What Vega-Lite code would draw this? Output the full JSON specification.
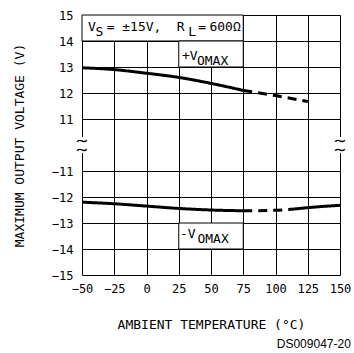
{
  "$schema": "https://vega.github.io/schema/vega-lite/v6.json",
  "width": 258,
  "height": 260,
  "autosize": "none",
  "padding": {"left": 82, "top": 15, "right": 14, "bottom": 78},
  "background": "white",
  "config": {
    "view": {"stroke": null},
    "font": "DejaVu Sans Mono",
    "axis": {
      "domain": false,
      "ticks": false,
      "grid": true,
      "gridColor": "#000000",
      "gridOpacity": 1,
      "gridWidth": 1,
      "labelOverlap": false,
      "labelFlush": false,
      "labelFont": "DejaVu Sans Mono",
      "labelFontSize": 12,
      "labelColor": "#000000",
      "titleFont": "DejaVu Sans Mono",
      "titleFontSize": 13,
      "titleFontWeight": "normal",
      "titleColor": "#000000"
    }
  },
  "title": {
    "text": "DS009047-20",
    "orient": "bottom",
    "anchor": "end",
    "font": "Liberation Sans",
    "fontSize": 12,
    "fontWeight": "normal",
    "color": "#000000",
    "offset": 8
  },
  "datasets": {
    "curves": [
      {"temp": -50, "volt": 12.97, "seg": "pos_a", "style": "solid"},
      {"temp": -25, "volt": 12.9, "seg": "pos_a", "style": "solid"},
      {"temp": 0, "volt": 12.76, "seg": "pos_a", "style": "solid"},
      {"temp": 25, "volt": 12.6, "seg": "pos_a", "style": "solid"},
      {"temp": 50, "volt": 12.37, "seg": "pos_a", "style": "solid"},
      {"temp": 75, "volt": 12.1, "seg": "pos_a", "style": "solid"},
      {"temp": 75, "volt": 12.1, "seg": "pos_b", "style": "dashed"},
      {"temp": 100, "volt": 11.9, "seg": "pos_b", "style": "dashed"},
      {"temp": 125, "volt": 11.67, "seg": "pos_b", "style": "dashed"},
      {"temp": -50, "volt": -12.2, "seg": "neg_a", "style": "solid"},
      {"temp": -25, "volt": -12.26, "seg": "neg_a", "style": "solid"},
      {"temp": 0, "volt": -12.35, "seg": "neg_a", "style": "solid"},
      {"temp": 25, "volt": -12.44, "seg": "neg_a", "style": "solid"},
      {"temp": 50, "volt": -12.5, "seg": "neg_a", "style": "solid"},
      {"temp": 75, "volt": -12.53, "seg": "neg_a", "style": "solid"},
      {"temp": 75, "volt": -12.53, "seg": "neg_b", "style": "dashed"},
      {"temp": 100, "volt": -12.51, "seg": "neg_b", "style": "dashed"},
      {"temp": 115, "volt": -12.46, "seg": "neg_b", "style": "dashed"},
      {"temp": 115, "volt": -12.46, "seg": "neg_c", "style": "solid"},
      {"temp": 125, "volt": -12.41, "seg": "neg_c", "style": "solid"},
      {"temp": 150, "volt": -12.32, "seg": "neg_c", "style": "solid"}
    ],
    "boxes": [
      {"temp": -50, "temp2": 75, "volt": 14, "volt2": 15},
      {"temp": 25, "temp2": 75, "volt": 13, "volt2": 14},
      {"temp": 25, "temp2": 75, "volt": -14, "volt2": -13}
    ],
    "gaps": [
      {"temp": -52.5, "temp2": -47.5, "volt": -3.4, "volt2": 3.4},
      {"temp": 147.5, "temp2": 152.5, "volt": -3.4, "volt2": 3.4}
    ],
    "breaks": [
      {"temp": -50, "volt": 1.6},
      {"temp": 150, "volt": 1.6}
    ],
    "labels": [
      {"temp": -45.3, "volt": 14.4, "text": "V"},
      {"temp": -30.9, "volt": 14.4, "text": "= ±15V,"},
      {"temp": 23.4, "volt": 14.4, "text": "R"},
      {"temp": 40.2, "volt": 14.4, "text": "="},
      {"temp": 48.8, "volt": 14.4, "text": "600Ω"},
      {"temp": 27.5, "volt": 13.27, "text": "+V"},
      {"temp": 26, "volt": -13.58, "text": "-V"}
    ],
    "subs": [
      {"temp": -39.5, "volt": 14.4, "text": "S"},
      {"temp": 32.4, "volt": 14.4, "text": "L"},
      {"temp": 39.1, "volt": 13.27, "text": "OMAX"},
      {"temp": 39.5, "volt": -13.58, "text": "OMAX"}
    ]
  },
  "layer": [
    {
      "data": {"name": "boxes"},
      "mark": {"type": "rect", "fill": "white", "stroke": "#000000", "strokeWidth": 1},
      "encoding": {
        "x": {
          "field": "temp",
          "type": "quantitative",
          "scale": {"domain": [-50, 150], "nice": false, "zero": false},
          "axis": {
            "title": "AMBIENT TEMPERATURE (°C)",
            "values": [-50, -25, 0, 25, 50, 75, 100, 125, 150],
            "tickCount": 40,
            "labelOverlap": false,
            "labelFlush": false,
            "labelPadding": 8,
            "titlePadding": 24
          }
        },
        "x2": {"field": "temp2"},
        "y": {
          "field": "volt",
          "type": "quantitative",
          "scale": {"domain": [-15, -11, 11, 15], "range": [260, 156, 104, 0], "nice": false, "zero": false},
          "axis": {
            "title": "MAXIMUM OUTPUT VOLTAGE (V)",
            "values": [-15, -14, -13, -12, -11, 11, 12, 13, 14, 15],
            "tickCount": 40,
            "labelOverlap": false,
            "labelFlush": false,
            "labelPadding": 9,
            "titlePadding": 25
          }
        },
        "y2": {"field": "volt2"}
      }
    },
    {
      "data": {"name": "gaps"},
      "mark": {"type": "rect", "fill": "white", "stroke": null},
      "encoding": {
        "x": {"field": "temp", "type": "quantitative"},
        "x2": {"field": "temp2"},
        "y": {"field": "volt", "type": "quantitative"},
        "y2": {"field": "volt2"}
      }
    },
    {
      "data": {"name": "breaks"},
      "mark": {"type": "text", "text": "∼\n∼", "lineBreak": "\n", "lineHeight": 9, "font": "DejaVu Sans", "fontSize": 16, "align": "center", "baseline": "middle", "color": "#000000"},
      "encoding": {
        "x": {"field": "temp", "type": "quantitative"},
        "y": {"field": "volt", "type": "quantitative"}
      }
    },
    {
      "data": {"name": "curves"},
      "mark": {"type": "line", "color": "#000000", "strokeWidth": 3, "interpolate": "monotone"},
      "encoding": {
        "x": {"field": "temp", "type": "quantitative"},
        "y": {"field": "volt", "type": "quantitative"},
        "detail": {"field": "seg"},
        "strokeDash": {
          "field": "style",
          "type": "nominal",
          "scale": {"domain": ["solid", "dashed"], "range": [[1, 0], [9, 6]]},
          "legend": null
        }
      }
    },
    {
      "data": {"name": "labels"},
      "mark": {"type": "text", "align": "left", "baseline": "alphabetic", "fontSize": 13, "color": "#000000"},
      "encoding": {
        "x": {"field": "temp", "type": "quantitative"},
        "y": {"field": "volt", "type": "quantitative"},
        "text": {"field": "text"}
      }
    },
    {
      "data": {"name": "subs"},
      "mark": {"type": "text", "align": "left", "baseline": "alphabetic", "fontSize": 13, "dy": 5, "color": "#000000"},
      "encoding": {
        "x": {"field": "temp", "type": "quantitative"},
        "y": {"field": "volt", "type": "quantitative"},
        "text": {"field": "text"}
      }
    }
  ]
}
